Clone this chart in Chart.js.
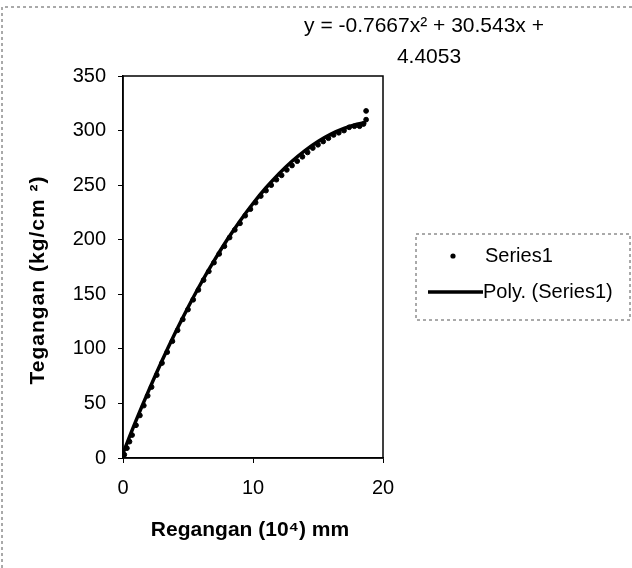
<!DOCTYPE html>
<html>
<head>
<meta charset="utf-8">
<script src="https://cdn.jsdelivr.net/npm/chart.js@4"></script>
<style>
  html, body { margin: 0; padding: 0; background: #fff; }
  #wrap { width: 632px; height: 568px; }
</style>
</head>
<body>
<div id="wrap"><canvas id="myChart" width="632" height="568"></canvas></div>
<script>
// measured points (strain x1e-4 mm, stress kg/cm2)
const strain = [0.1, 0.3, 0.5, 0.7, 1.0, 1.3, 1.6, 1.9, 2.2, 2.6, 3.0, 3.4, 3.8, 4.2, 4.6, 5.0, 5.4, 5.8, 6.2, 6.6,
    7.0, 7.4, 7.8, 8.2, 8.6, 9.0, 9.4, 9.8, 10.2, 10.6, 11.0, 11.4, 11.8, 12.2, 12.6, 13.0, 13.4, 13.8, 14.2, 14.6,
    15.0, 15.4, 15.8, 16.2, 16.6, 17.0, 17.4, 17.8, 18.2, 18.5, 18.7, 18.7]
const stress = [3, 9, 15, 21, 30, 39, 48, 57, 65, 76, 87, 97, 107, 117, 127, 136, 145, 154, 163, 171,
    179, 187, 194, 202, 209, 215, 222, 228, 234, 240, 245, 250, 255, 259, 264, 268, 272, 276, 280, 284,
    287, 290, 293, 296, 298, 300, 303, 304, 304, 306, 310, 318]

// trendline
const trendX = [0, 1, 2, 3, 4, 5, 6, 7, 8, 9, 10, 11, 12, 13, 14, 15, 16, 17, 18, 18.7]
const trendY = [4.4, 34.2, 62.4, 89.1, 114.3, 137.9, 160.1, 180.6, 199.7, 217.2, 233.2, 247.6, 260.5, 271.9, 281.7,
    290.0, 296.8, 302.0, 305.8, 307.5]

const xTicks = [0, 10, 20]
const yTicks = [0, 50, 100, 150, 200, 250, 300, 350]

const equation = ['y = -0.7667x\u00b2 + 30.543x +', '4.4053']
const seriesNames = ['Series1', 'Poly. (Series1)']
const xTitle = 'Regangan (10\u2074) mm'
const yTitle = 'Tegangan (kg/cm \u00b2)'

const FONT = "'Liberation Sans', Arial, sans-serif"

const points = strain.map((x, i) => ({ x: x, y: stress[i] }))
const trend = trendX.map((x, i) => ({ x: x, y: trendY[i] }))

const extras = {
    id: 'extras',
    afterDraw(chart) {
        const ctx = chart.ctx
        const a = chart.chartArea
        ctx.save()

        // plot box
        ctx.strokeStyle = '#000'
        ctx.lineWidth = 1.5
        ctx.strokeRect(a.left, a.top, a.right - a.left, a.bottom - a.top)

        // outer dashed frame
        ctx.lineWidth = 1
        ctx.strokeStyle = '#555'
        ctx.setLineDash([3, 3])
        ctx.beginPath()
        ctx.moveTo(2, 568)
        ctx.lineTo(2, 7)
        ctx.lineTo(632, 7)
        ctx.stroke()

        // legend box
        ctx.strokeRect(416, 234, 214, 86)
        ctx.setLineDash([])

        ctx.fillStyle = '#000'
        ctx.textBaseline = 'middle'

        // equation
        ctx.font = '21px ' + FONT
        ctx.textAlign = 'center'
        ctx.fillText(equation[0], 424, 26)
        ctx.fillText(equation[1], 429, 57)

        // legend entries
        ctx.beginPath()
        ctx.arc(453, 256, 2.6, 0, Math.PI * 2)
        ctx.fill()
        ctx.lineWidth = 3.5
        ctx.strokeStyle = '#000'
        ctx.beginPath()
        ctx.moveTo(428, 292)
        ctx.lineTo(483, 292)
        ctx.stroke()
        ctx.textAlign = 'left'
        ctx.font = '20px ' + FONT
        ctx.fillText(seriesNames[0], 485, 256)
        ctx.fillText(seriesNames[1], 483, 292)

        // axis titles
        ctx.font = 'bold 21px ' + FONT
        ctx.textAlign = 'center'
        ctx.fillText(xTitle, 250, 530)
        ctx.translate(38, 280)
        ctx.rotate(-Math.PI / 2)
        ctx.letterSpacing = '1px'
        ctx.fillText(yTitle, 0, 0)

        ctx.restore()
    }
}

new Chart(document.getElementById('myChart'), {
    type: 'scatter',
    data: {
        datasets: [{
            label: seriesNames[0],
            data: points,
            pointRadius: 2.4,
            pointBackgroundColor: '#000',
            pointBorderColor: '#000',
            showLine: false,
        }, {
            label: seriesNames[1],
            data: trend,
            showLine: true,
            pointRadius: 0,
            borderColor: '#000',
            borderWidth: 3.5,
            cubicInterpolationMode: 'monotone',
        }]
    },
    options: {
        responsive: false,
        animation: false,
        layout: { padding: { top: 76, right: 249, left: 0, bottom: 0 } },
        plugins: { legend: { display: false }, tooltip: { enabled: false } },
        scales: {
            x: {
                type: 'linear',
                min: 0, max: 20,
                afterFit: (s) => { s.height = 110 },
                afterBuildTicks: (s) => { s.ticks = xTicks.map(v => ({ value: v })) },
                grid: { drawOnChartArea: false, tickLength: 5, color: '#000' },
                border: { color: '#000', width: 1.5 },
                ticks: { color: '#000', font: { family: FONT, size: 20 }, padding: 13 }
            },
            y: {
                min: 0, max: 350,
                afterFit: (s) => { s.width = 123 },
                afterBuildTicks: (s) => { s.ticks = yTicks.map(v => ({ value: v })) },
                grid: { drawOnChartArea: false, tickLength: 5, color: '#000' },
                border: { color: '#000', width: 1.5 },
                ticks: { color: '#000', font: { family: FONT, size: 20 }, padding: 12 }
            }
        }
    },
    plugins: [extras]
})
</script>
</body>
</html>
